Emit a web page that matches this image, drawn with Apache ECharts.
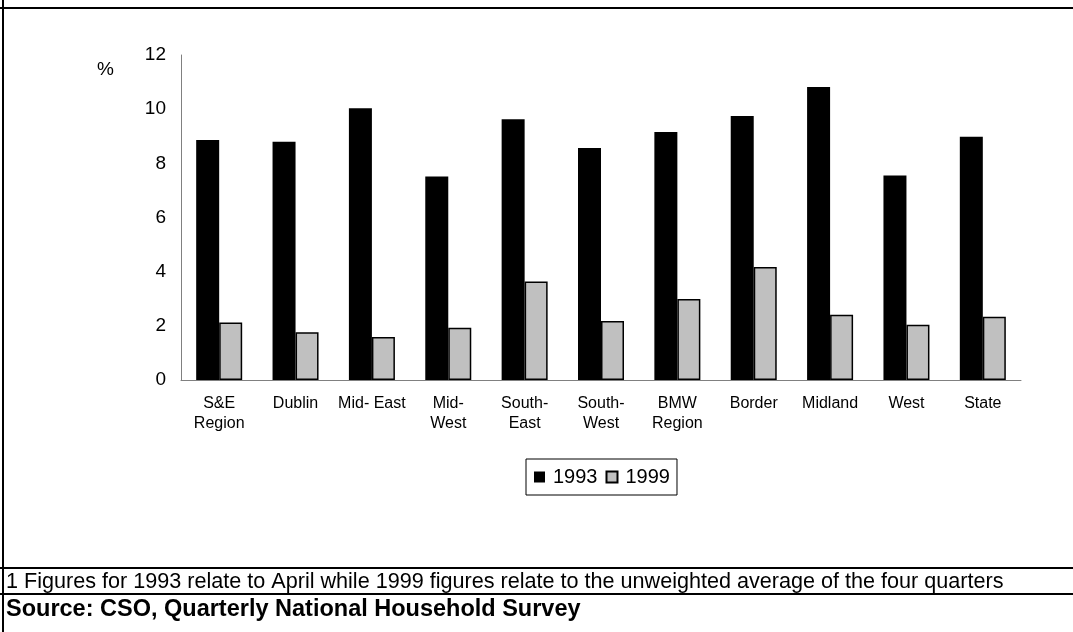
<!DOCTYPE html>
<html>
<head>
<meta charset="utf-8">
<script src="https://cdn.jsdelivr.net/npm/echarts@6/dist/echarts.min.js"></script>
<style>
  html, body { margin: 0; padding: 0; background: #fff; }
  #chart { width: 1073px; height: 632px; }
</style>
</head>
<body>
<div id="chart"></div>
<script>
// Regions (line breaks as shown under the axis)
const categories = ['S&E\nRegion', 'Dublin', 'Mid- East', 'Mid-\nWest', 'South-\nEast', 'South-\nWest',
  'BMW\nRegion', 'Border', 'Midland', 'West', 'State'];
// Percentages by region
const values1993 = [8.86, 8.80, 10.03, 7.51, 9.63, 8.57, 9.16, 9.75, 10.82, 7.55, 8.98];
const values1999 = [2.12, 1.76, 1.59, 1.93, 3.64, 2.18, 2.99, 4.17, 2.41, 2.04, 2.34];
const seriesNames = ['1993', '1999'];
const yTicks = { min: 0, max: 12, interval: 2 };
const footnote = '1 Figures for 1993 relate to April while 1999 figures relate to the unweighted average of the four quarters';
const sourceText = 'Source: CSO, Quarterly National Household Survey';

const FONT = "'Liberation Sans', Arial, Helvetica, sans-serif";
const chart = echarts.init(document.getElementById('chart'), null, { renderer: 'canvas' });

chart.setOption({
  animation: false,
  backgroundColor: '#ffffff',
  textStyle: { fontFamily: FONT, color: '#000' },
  grid: { left: 181, right: 52, top: 55, bottom: 252, containLabel: false },
  legend: {
    left: 526,
    top: 459,
    orient: 'horizontal',
    itemWidth: 11,
    itemHeight: 11,
    itemGap: 8,
    padding: [8, 7, 8, 8],
    borderColor: '#000',
    borderWidth: 1,
    icon: 'rect',
    textStyle: { fontSize: 20, color: '#000', fontFamily: FONT, padding: [0, 0, 0, 3] },
    data: seriesNames
  },
  xAxis: {
    type: 'category',
    data: categories,
    axisLine: { show: true, lineStyle: { color: '#808080', width: 1 } },
    axisTick: { show: false },
    axisLabel: { interval: 0, fontSize: 16, lineHeight: 20, color: '#000', margin: 14, fontFamily: FONT },
    splitLine: { show: false }
  },
  yAxis: {
    type: 'value',
    min: yTicks.min,
    max: yTicks.max,
    interval: yTicks.interval,
    axisLine: { show: true, lineStyle: { color: '#808080', width: 1 } },
    axisTick: { show: false },
    axisLabel: { fontSize: 19, color: '#000', margin: 15, fontFamily: FONT },
    splitLine: { show: false }
  },
  series: [
    {
      name: seriesNames[0],
      type: 'bar',
      data: values1993,
      barWidth: 23,
      barGap: '0%',
      itemStyle: { color: '#000000' }
    },
    {
      name: seriesNames[1],
      type: 'bar',
      data: values1999,
      barWidth: 23,
      barGap: '0%',
      itemStyle: { color: '#C0C0C0', borderColor: '#000', borderWidth: 1.5 }
    }
  ],
  graphic: [
    { type: 'line', silent: true, shape: { x1: 0, y1: 8, x2: 1073, y2: 8 }, style: { stroke: '#000', lineWidth: 2 } },
    { type: 'line', silent: true, shape: { x1: 3, y1: 0, x2: 3, y2: 632 }, style: { stroke: '#000', lineWidth: 2 } },
    { type: 'line', silent: true, shape: { x1: 0, y1: 568, x2: 1073, y2: 568 }, style: { stroke: '#000', lineWidth: 2 } },
    { type: 'line', silent: true, shape: { x1: 0, y1: 594, x2: 1073, y2: 594 }, style: { stroke: '#000', lineWidth: 2 } },
    { type: 'text', silent: true, x: 97, y: 70,
      style: { text: '%', font: '19px ' + FONT, fill: '#000', verticalAlign: 'middle' } },
    { type: 'text', silent: true, x: 6, y: 582,
      style: { text: footnote, font: '21.6px ' + FONT, fill: '#000', verticalAlign: 'middle' } },
    { type: 'text', silent: true, x: 6, y: 610,
      style: { text: sourceText, font: 'bold 23.5px ' + FONT, fill: '#000', verticalAlign: 'middle' } }
  ]
});
</script>
</body>
</html>
